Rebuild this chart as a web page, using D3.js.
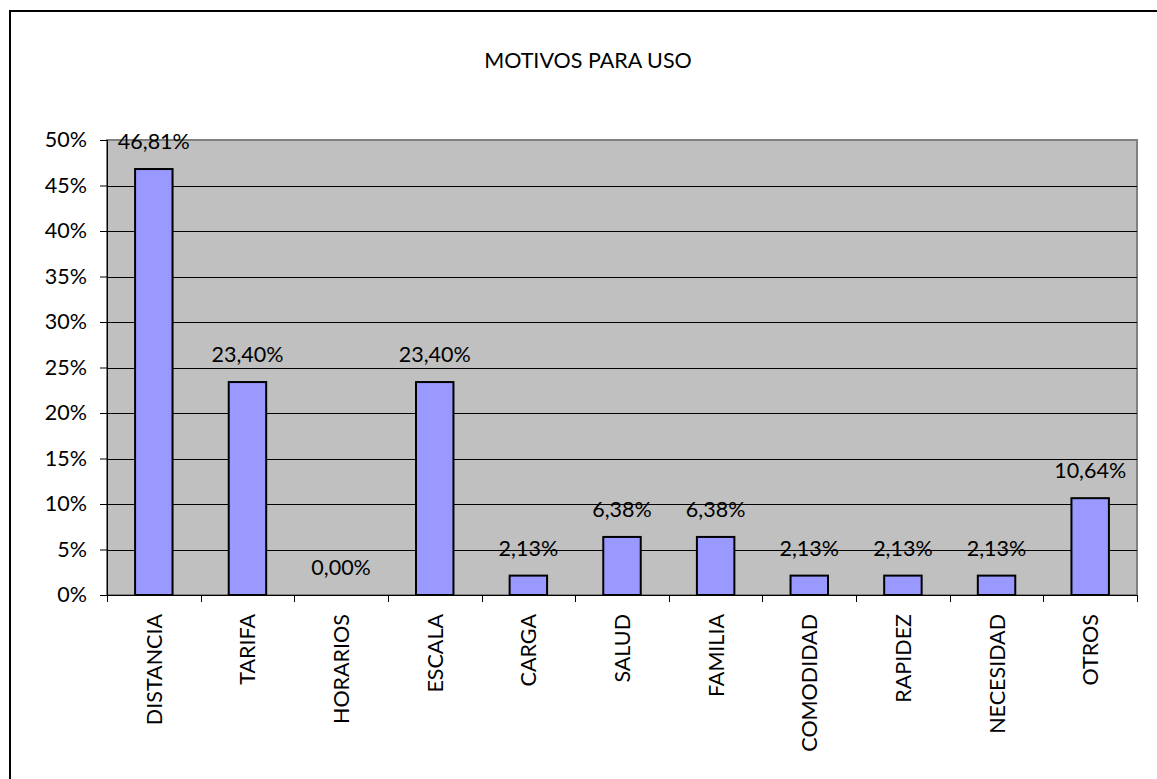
<!DOCTYPE html>
<html>
<head>
<meta charset="utf-8">
<script src="https://cdn.jsdelivr.net/npm/d3@7"></script>
<style>
  html, body { margin: 0; padding: 0; background: #fff; }
  svg { display: block; }
  text { font-family: Lato, "Open Sans", sans-serif; fill: #000; }
</style>
</head>
<body>
<svg id="chart" width="1157" height="779"></svg>
<script>
// Survey: reasons for use (share of responses)
const categories = ["DISTANCIA", "TARIFA", "HORARIOS", "ESCALA", "CARGA", "SALUD",
                    "FAMILIA", "COMODIDAD", "RAPIDEZ", "NECESIDAD", "OTROS"];
const shares = [0.4681, 0.2340, 0.0000, 0.2340, 0.0213, 0.0638,
                0.0638, 0.0213, 0.0213, 0.0213, 0.1064];
const yTicks = [0, 0.05, 0.10, 0.15, 0.20, 0.25, 0.30, 0.35, 0.40, 0.45, 0.50];
const title = "MOTIVOS PARA USO";

const FS = 21.5;
const svg = d3.select("#chart");
const plot = { left: 107, right: 1137, top: 140, bottom: 595 };

// outer chart frame
svg.append("rect")
  .attr("x", 10).attr("y", 11)
  .attr("width", 1300).attr("height", 900)
  .attr("fill", "#fff").attr("stroke", "#000").attr("stroke-width", 2);

svg.append("text")
  .attr("x", 588).attr("y", 68)
  .attr("text-anchor", "middle")
  .attr("font-size", FS)
  .text(title);

const x = d3.scaleBand().domain(categories).range([plot.left, plot.right]).padding(0);
const y = d3.scaleLinear().domain([0, 0.5]).range([plot.bottom, plot.top]);

// plot background
svg.append("rect")
  .attr("x", plot.left).attr("y", plot.top)
  .attr("width", plot.right - plot.left).attr("height", plot.bottom - plot.top)
  .attr("fill", "#c0c0c0").attr("stroke", "#808080").attr("stroke-width", 2);

// horizontal gridlines
svg.append("g").selectAll("line")
  .data(yTicks.filter(t => t > 0 && t < 0.5))
  .join("line")
  .attr("x1", plot.left).attr("x2", plot.right)
  .attr("y1", d => Math.round(y(d)) + 0.5).attr("y2", d => Math.round(y(d)) + 0.5)
  .attr("stroke", "#000").attr("stroke-width", 1);

// y axis
const pct = d3.format(".0%");
const yAxis = svg.append("g")
  .attr("transform", `translate(${plot.left},0)`)
  .call(d3.axisLeft(y).tickValues(yTicks).tickFormat(pct).tickSize(7).tickPadding(13));
yAxis.select(".domain").attr("stroke", "#000").attr("stroke-width", 1);
yAxis.selectAll(".tick line").attr("stroke", "#000");
yAxis.selectAll(".tick text")
  .attr("font-size", FS)
  .attr("font-family", "Lato, 'Open Sans', sans-serif")
  .attr("fill", "#000");

// x axis with ticks at category boundaries
const xAxis = svg.append("g")
  .attr("transform", `translate(0,${plot.bottom})`);
xAxis.append("line")
  .attr("x1", plot.left).attr("x2", plot.right)
  .attr("y1", 0.5).attr("y2", 0.5)
  .attr("stroke", "#000");
const bounds = categories.map(c => x(c)).concat([plot.right]);
xAxis.selectAll("line.tk")
  .data(bounds)
  .join("line").attr("class", "tk")
  .attr("x1", d => Math.round(d) + 0.5).attr("x2", d => Math.round(d) + 0.5)
  .attr("y1", 0).attr("y2", 7)
  .attr("stroke", "#000");

// rotated category labels
svg.append("g").selectAll("text")
  .data(categories)
  .join("text")
  .attr("transform", d => `translate(${x(d) + x.bandwidth() / 2 + 8},614) rotate(-90)`)
  .attr("text-anchor", "end")
  .attr("font-size", FS)
  .text(d => d);

// bars
const barW = x.bandwidth() * 0.4;
svg.append("g").selectAll("rect")
  .data(shares)
  .join("rect")
  .attr("x", (d, i) => x(categories[i]) + (x.bandwidth() - barW) / 2)
  .attr("y", d => y(d))
  .attr("width", barW)
  .attr("height", d => y(0) - y(d))
  .attr("fill", d => d > 0 ? "#9999ff" : "none")
  .attr("stroke", d => d > 0 ? "#000" : "none")
  .attr("stroke-width", 2);

// value labels
const valFmt = v => (v * 100).toFixed(2).replace(".", ",") + "%";
svg.append("g").selectAll("text")
  .data(shares)
  .join("text")
  .attr("x", (d, i) => x(categories[i]) + x.bandwidth() / 2)
  .attr("y", d => y(d) - 20)
  .attr("text-anchor", "middle")
  .attr("font-size", FS)
  .text(d => valFmt(d));
</script>
</body>
</html>
